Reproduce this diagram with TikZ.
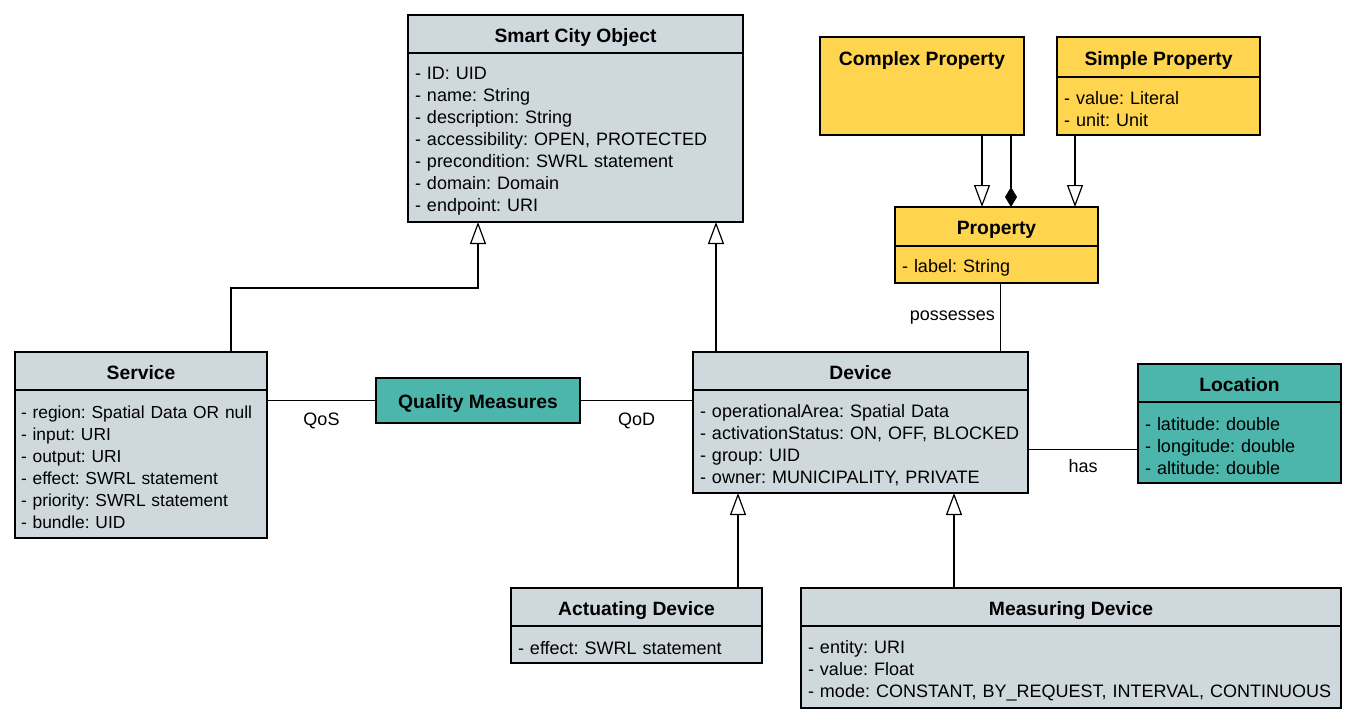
\documentclass[tikz,border=0pt]{standalone}
\usepackage{fontspec}
\setmainfont{Liberation Sans}
\usetikzlibrary{arrows.meta,positioning,calc}
\definecolor{clsgrey}{RGB}{207,216,220}
\definecolor{clsyellow}{RGB}{255,213,79}
\definecolor{clsteal}{RGB}{77,182,172}
\frenchspacing

\begin{document}
\begin{tikzpicture}[x=1pt,y=-1pt,
  hdr/.style={draw,line width=1.2pt,anchor=north west,inner sep=0pt,outer sep=0pt,text height=16pt,text depth=0pt,font=\bfseries\fontsize{19.3}{22}\selectfont},
  bdy/.style={draw,line width=1.2pt,anchor=north west,inner xsep=7pt,inner ysep=0pt,outer sep=0pt,align=left,font=\fontsize{18}{22}\selectfont,
    execute at begin node={\rule{0pt}{20pt}}},
  gen/.style={line width=1.2pt,-{Triangle[width=16pt,length=22pt,fill=white]}},
  comp/.style={line width=1.2pt,-{Diamond[width=12pt,length=20pt]}},
  lbl/.style={font=\fontsize{18}{22}\selectfont,inner sep=0pt}]
\useasboundingbox (0,0) rectangle (1357,723);

% classes
\node[hdr,fill=clsgrey,minimum width=335pt,minimum height=38pt] (sco) at (408,15) {Smart City Object};
\node[bdy,fill=clsgrey,minimum width=335pt,minimum height=169pt,text width=321pt] (sco-b) at (sco.south west)
  {- ID: UID\\- name: String\\- description: String\\- accessibility: OPEN, PROTECTED\\- precondition: SWRL statement\\- domain: Domain\\- endpoint: URI};

\node[hdr,fill=clsyellow,minimum width=204pt,text height=28pt,text depth=70pt] (cp) at (820,37) {Complex Property};

\node[hdr,fill=clsyellow,minimum width=203pt,minimum height=40pt] (sp) at (1057,37) {Simple Property};
\node[bdy,fill=clsyellow,minimum width=203pt,minimum height=58pt,text width=189pt] (sp-b) at (sp.south west)
  {- value: Literal\\- unit: Unit};

\node[hdr,fill=clsyellow,minimum width=203pt,minimum height=39pt] (prop) at (895,207) {Property};
\node[bdy,fill=clsyellow,minimum width=203pt,minimum height=37pt,text width=189pt] (prop-b) at (prop.south west)
  {- label: String};

\node[hdr,fill=clsgrey,minimum width=252pt,minimum height=38pt] (svc) at (15,352) {Service};
\node[bdy,fill=clsgrey,minimum width=252pt,minimum height=148pt,text width=240pt,inner xsep=6pt,font=\fontsize{17.4}{22}\selectfont] (svc-b) at (svc.south west)
  {- region: Spatial Data OR null\\- input: URI\\- output: URI\\- effect: SWRL statement\\- priority: SWRL statement\\- bundle: UID};

\node[hdr,fill=clsteal,minimum width=204pt,minimum height=45pt] (qm) at (376,378) {Quality Measures};

\node[hdr,fill=clsgrey,minimum width=335pt,minimum height=38pt] (dev) at (693,352) {Device};
\node[bdy,fill=clsgrey,minimum width=335pt,minimum height=103pt,text width=321pt] (dev-b) at (dev.south west)
  {- operationalArea: Spatial Data\\- activationStatus: ON, OFF, BLOCKED\\- group: UID\\- owner: MUNICIPALITY, PRIVATE};

\node[hdr,fill=clsteal,minimum width=203pt,minimum height=38pt] (loc) at (1138,364) {Location};
\node[bdy,fill=clsteal,minimum width=203pt,minimum height=81pt,text width=189pt] (loc-b) at (loc.south west)
  {- latitude: double\\- longitude: double\\- altitude: double};

\node[hdr,fill=clsgrey,minimum width=251pt,minimum height=38pt] (ad) at (511,588) {Actuating Device};
\node[bdy,fill=clsgrey,minimum width=251pt,minimum height=37pt,text width=237pt] (ad-b) at (ad.south west)
  {- effect: SWRL statement};

\node[hdr,fill=clsgrey,minimum width=540pt,minimum height=38pt] (md) at (801,588) {Measuring Device};
\node[bdy,fill=clsgrey,minimum width=540pt,minimum height=82pt,text width=526pt] (md-b) at (md.south west)
  {- entity: URI\\- value: Float\\- mode: CONSTANT, BY\_REQUEST, INTERVAL, CONTINUOUS};

% generalisations
\draw[gen] ([xshift=216pt]svc.north west) -- ++(0,-64) -| ([xshift=70pt]sco-b.south west);
\draw[gen] ([xshift=23pt]dev.north west) -- ([xshift=23pt]dev.north west |- sco-b.south);
\draw[gen] ([xshift=60pt]cp.south) -- ([xshift=60pt]cp.south |- prop.north);
\draw[comp] ([xshift=89pt]cp.south) -- ([xshift=89pt]cp.south |- prop.north);
\draw[gen] ([xshift=18pt]sp-b.south west) -- ([xshift=18pt]sp-b.south west |- prop.north);
\draw[gen] ([xshift=227pt]ad.north west) -- ([xshift=227pt]ad.north west |- dev-b.south);
\draw[gen] ([xshift=153pt]md.north west) -- ([xshift=153pt]md.north west |- dev-b.south);

% associations
\draw[line width=1.2pt] (qm.west -| svc-b.east) -- node[lbl,midway,below=12pt] (qos) {QoS} (qm.west);
\draw[line width=1.2pt] (qm.east) -- node[lbl,midway,below=12pt] (qod) {QoD} (qm.east -| dev-b.west);
\draw[line width=1.2pt] ([yshift=-8pt]dev-b.east) -- node[lbl,midway,below=9pt] (has) {has} ([yshift=-8pt]dev-b.east -| loc-b.west);
\draw[line width=1.2pt] ([xshift=4pt]prop-b.south) -- node[lbl,midway,left=5pt] (poss) {possesses} ([xshift=4pt]prop-b.south |- dev.north);
\end{tikzpicture}
\end{document}
